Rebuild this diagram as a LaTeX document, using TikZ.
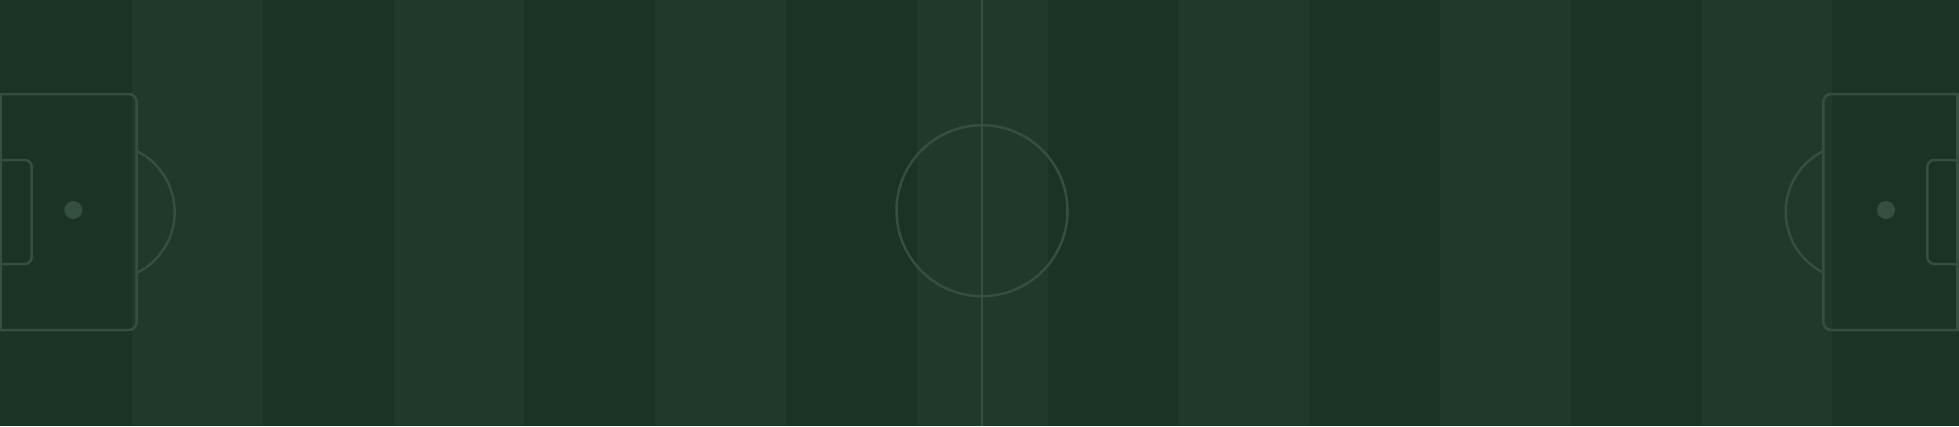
\documentclass[tikz,border=0pt]{standalone}
\usepackage{xcolor}
\usepackage{tikz}
\definecolor{grassdark}{RGB}{27,51,36}
\definecolor{grasslight}{RGB}{33,57,42}
\definecolor{pitchline}{RGB}{53,79,62}

\begin{document}
\begin{tikzpicture}[x=0.01cm, y=-0.01cm,
    mark line/.style={draw=pitchline, line width=0.025cm},
    spot/.style={fill=pitchline}]

\useasboundingbox (0,0) rectangle (1959,426);
\clip (0,0) rectangle (1959,426);

% grass stripes
\fill[grassdark] (0,0) rectangle (1959,426);
\foreach \i in {1,3,...,13} {
    \pgfmathsetmacro{\xs}{1.2+130.8*\i}
    \fill[grasslight] (\xs,0) rectangle ++(130.8,426);
};

\coordinate (c) at (982,210.7);
\coordinate (ls) at (73.3,210);
\coordinate (rs) at (1886,210);

% halfway line and centre circle
\draw[mark line] (982,0) -- (982,426);
\draw[mark line] (c) circle[radius=85.5];

% left end
\draw[mark line, rounded corners=0.08cm] (0,94) -- (136.7,94) -- (136.7,330) -- (0,330);
\draw[mark line] (1.2,94) -- (1.2,330);
\draw[mark line, rounded corners=0.07cm] (0,160) -- (31.7,160) -- (31.7,264) -- (0,264);
\draw[mark line] (136.7,151) arc[start angle=-63.8, end angle=63.8, radius=68];
\fill[spot] (ls) circle[radius=9];

% right end
\draw[mark line, rounded corners=0.08cm] (1959,94) -- (1823.3,94) -- (1823.3,330) -- (1959,330);
\draw[mark line] (1957.5,94) -- (1957.5,330);
\draw[mark line, rounded corners=0.07cm] (1959,160) -- (1927.3,160) -- (1927.3,264) -- (1959,264);
\draw[mark line] (1823.3,151) arc[start angle=-116.6, end angle=-243.4, radius=68];
\fill[spot] (rs) circle[radius=9];

\end{tikzpicture}
\end{document}
